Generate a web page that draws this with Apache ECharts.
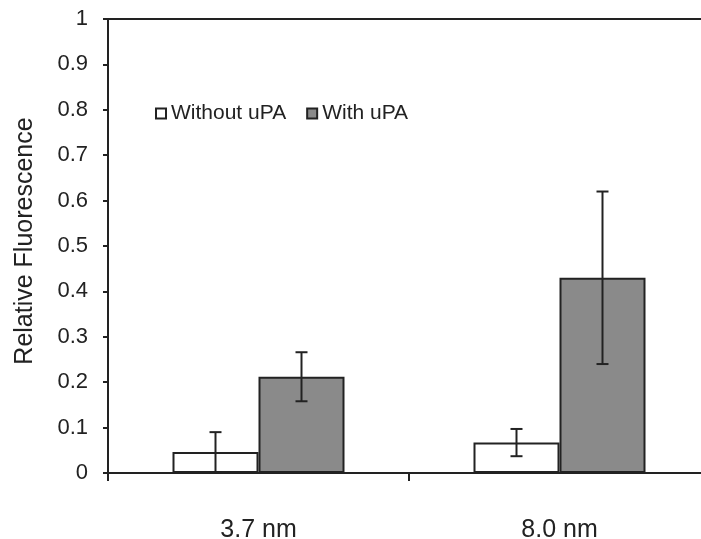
<!DOCTYPE html>
<html>
<head>
<meta charset="utf-8">
<script src="https://cdn.jsdelivr.net/npm/echarts@6/dist/echarts.min.js"></script>
<style>html,body{margin:0;padding:0;background:#fff}#c{width:701px;height:539px}</style>
</head>
<body>
<div id="c"></div>
<script>
const categories = ['3.7 nm', '8.0 nm'];
const withoutUPA = [0.046, 0.067];
const withoutUPAErr = [0.044, 0.030];
const withUPA = [0.212, 0.430];
const withUPAErr = [0.054, 0.190];
const yTicks = [0, 0.1, 0.2, 0.3, 0.4, 0.5, 0.6, 0.7, 0.8, 0.9, 1];

const BAR_W = 86;
const INK = '#222';
const FONT = 'Liberation Sans, Arial, sans-serif';

function errSeries(values, errs, offset) {
  return {
    type: 'custom',
    silent: true,
    z: 10,
    data: values.map((v, i) => [i, v, errs[i]]),
    renderItem: function (params, api) {
      const i = api.value(0), v = api.value(1), e = api.value(2);
      const hi = api.coord([i, v + e]);
      const lo = api.coord([i, Math.max(0, v - e)]);
      const x = hi[0] + offset;
      const cap = 6;
      const st = { stroke: INK, lineWidth: 2 };
      return {
        type: 'group',
        children: [
          { type: 'line', shape: { x1: x, y1: hi[1], x2: x, y2: lo[1] }, style: st },
          { type: 'line', shape: { x1: x - cap, y1: hi[1], x2: x + cap, y2: hi[1] }, style: st },
          { type: 'line', shape: { x1: x - cap, y1: lo[1], x2: x + cap, y2: lo[1] }, style: st }
        ]
      };
    }
  };
}

const chart = echarts.init(document.getElementById('c'), null, { renderer: 'canvas' });
chart.setOption({
  animation: false,
  backgroundColor: '#fff',
  textStyle: { fontFamily: FONT, color: INK },
  grid: { left: 108, top: 19, width: 602, height: 454, outerBoundsMode: 'none', show: true, borderColor: INK, borderWidth: 2, containLabel: false },
  legend: {
    data: ['Without uPA', 'With uPA'],
    left: 150, top: 98,
    itemWidth: 10, itemHeight: 10, itemGap: 20,
    textStyle: { fontFamily: FONT, fontSize: 21, color: INK },
    icon: 'rect'
  },
  xAxis: {
    type: 'category',
    data: categories,
    axisLine: { lineStyle: { color: INK, width: 2 } },
    axisTick: { show: true, length: 8, lineStyle: { color: INK, width: 2 } },
    axisLabel: { fontFamily: FONT, fontSize: 25, color: INK, margin: 45 },
    splitLine: { show: false }
  },
  yAxis: {
    type: 'value',
    min: 0, max: 1, interval: 0.1,
    name: 'Relative Fluorescence',
    nameLocation: 'middle',
    nameGap: 70,
    nameTextStyle: { fontFamily: FONT, fontSize: 25, color: INK, padding: [0, 0, 0, 10] },
    axisLine: { show: true, lineStyle: { color: INK, width: 2 } },
    axisTick: { show: true, length: 5, lineStyle: { color: INK, width: 2 } },
    axisLabel: {
      fontFamily: FONT, fontSize: 22, color: INK, margin: 20,
      formatter: v => { const t = yTicks.find(k => Math.abs(k - v) < 1e-9); return String(t !== undefined ? t : v); }
    },
    splitLine: { show: false }
  },
  series: [
    {
      name: 'Without uPA', type: 'bar', data: withoutUPA, barWidth: BAR_W, barGap: '0%',
      itemStyle: { color: '#ffffff', borderColor: INK, borderWidth: 2 }
    },
    {
      name: 'With uPA', type: 'bar', data: withUPA, barWidth: BAR_W, barGap: '0%',
      itemStyle: { color: '#8a8a8a', borderColor: INK, borderWidth: 2 }
    },
    errSeries(withoutUPA, withoutUPAErr, -BAR_W / 2),
    errSeries(withUPA, withUPAErr, BAR_W / 2)
  ]
});
</script>
</body>
</html>
